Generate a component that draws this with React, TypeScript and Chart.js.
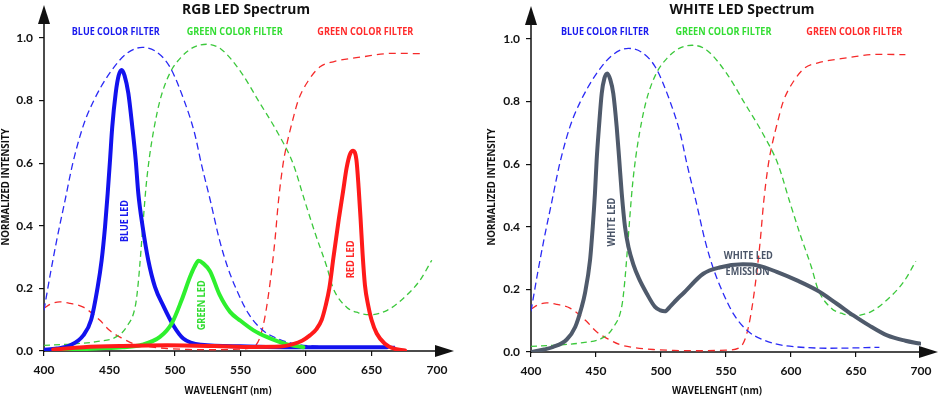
import React, { useEffect, useRef } from 'react';
import { Chart, registerables } from 'chart.js';

Chart.register(...registerables);

// ---- axis ranges / tick labels ----
const X_MIN = 400;
const X_MAX = 700;
const X_STEP = 50;
const Y_MIN = 0;
const Y_MAX = 1.0;
const Y_STEP = 0.2;

// ---- colour filters (dashed, same in both panels) ----
const blueFilterNm = [400, 405, 410, 416, 422, 430, 438, 450, 463, 475, 486, 496, 507, 515, 520, 527, 534, 540, 546, 556, 567, 578, 590, 605, 630, 668];
const blueFilterVal = [0.13, 0.25, 0.36, 0.48, 0.6, 0.72, 0.8, 0.887, 0.95, 0.97, 0.955, 0.908, 0.8, 0.695, 0.6, 0.48, 0.354, 0.27, 0.205, 0.12, 0.066, 0.04, 0.024, 0.016, 0.012, 0.015];

const greenFilterNm = [400, 420, 440, 455, 463, 470, 472, 474, 476, 478, 480.5, 483.5, 488.5, 496, 505, 514, 524, 535, 551, 563.6, 578.7, 590, 599, 607, 615.8, 620.8, 631, 640, 649, 662, 674, 687, 696];
const greenFilterVal = [0.018, 0.022, 0.03, 0.045, 0.077, 0.15, 0.22, 0.32, 0.43, 0.53, 0.62, 0.7, 0.8, 0.887, 0.94, 0.97, 0.98, 0.965, 0.887, 0.8, 0.695, 0.6, 0.48, 0.376, 0.27, 0.2, 0.14, 0.122, 0.116, 0.13, 0.167, 0.226, 0.29];

const redFilterNm = [400, 406, 412, 420, 430, 442.7, 450, 460, 468, 480, 494, 510, 530, 550, 560, 565, 568.7, 572.5, 576.3, 579, 582.6, 585.5, 590, 594, 602, 610.7, 620.8, 643.5, 666, 688];
const redFilterVal = [0.137, 0.152, 0.157, 0.152, 0.14, 0.098, 0.066, 0.04, 0.024, 0.014, 0.008, 0.005, 0.004, 0.006, 0.013, 0.045, 0.11, 0.215, 0.354, 0.48, 0.6, 0.663, 0.74, 0.8, 0.865, 0.908, 0.924, 0.94, 0.951, 0.95];

// ---- RGB LED emissions ----
const blueLedNm = [399, 410, 420, 430, 436, 441, 444, 446.6, 448.6, 450.4, 452.1, 454.7, 457, 459.3, 461.5, 464.4, 467.4, 470, 472, 475.3, 479.6, 484.7, 491, 499, 506.3, 520, 550, 600, 640, 662];
const blueLedVal = [0.004, 0.008, 0.018, 0.05, 0.1, 0.205, 0.29, 0.397, 0.503, 0.61, 0.716, 0.823, 0.88, 0.898, 0.88, 0.823, 0.716, 0.61, 0.503, 0.397, 0.29, 0.205, 0.145, 0.08, 0.04, 0.02, 0.015, 0.012, 0.012, 0.012];

const greenLedNm = [413.5, 440, 460, 475, 488.5, 497.5, 505, 511.5, 515, 518, 521.5, 526.7, 534, 542, 549.6, 560, 570, 585, 598];
const greenLedVal = [0.002, 0.008, 0.012, 0.02, 0.045, 0.088, 0.162, 0.237, 0.27, 0.288, 0.28, 0.255, 0.18, 0.125, 0.098, 0.066, 0.045, 0.022, 0.012];

const redLedNm = [407, 430, 460, 494, 530, 560, 580, 590, 597, 603, 608, 612, 615, 617.8, 621, 625, 628.3, 631, 633.5, 636, 638.5, 640.2, 641.7, 643.2, 645, 647.5, 650, 654, 660, 666.6, 675.6];
const redLedVal = [0.005, 0.012, 0.016, 0.018, 0.016, 0.013, 0.014, 0.022, 0.033, 0.05, 0.07, 0.1, 0.145, 0.2, 0.3, 0.42, 0.51, 0.585, 0.628, 0.64, 0.61, 0.52, 0.42, 0.31, 0.21, 0.145, 0.1, 0.056, 0.024, 0.008, 0.002];

// ---- white LED emission ----
const whiteLedNm = [400, 410, 417, 427.5, 434, 439, 441.5, 445.4, 447.5, 449.2, 450.5, 452.3, 454.4, 456.5, 458.7, 461, 463.3, 465.9, 467.9, 469.8, 472.3, 475, 478.7, 483, 489, 495.4, 499.5, 503, 507, 512, 517, 532.5, 545, 563, 575, 589, 605, 620, 635, 648, 660, 674, 688, 699];
const whiteLedVal = [0, 0.008, 0.016, 0.04, 0.08, 0.144, 0.187, 0.293, 0.4, 0.507, 0.613, 0.72, 0.826, 0.875, 0.89, 0.87, 0.826, 0.72, 0.613, 0.507, 0.4, 0.335, 0.28, 0.235, 0.187, 0.144, 0.133, 0.13, 0.145, 0.167, 0.187, 0.25, 0.27, 0.28, 0.276, 0.256, 0.228, 0.197, 0.155, 0.117, 0.085, 0.053, 0.036, 0.027];

// ---- styles ----
const C_BLUE = '#1212ee';
const C_GREEN = '#2ef02e';
const C_RED = '#ff1a1a';
const C_WHITE = '#4f5a6b';
const C_BLUE_D = '#2a2af5';
const C_GREEN_D = '#3cc83c';
const C_RED_D = '#f52a2a';
const C_BLUE_T = '#1a1aee';
const C_GREEN_T = '#33dd33';
const C_RED_T = '#ff2a2a';
const C_WHITE_T = '#4a5568';
const AXIS = '#111111';

const W = 470;
const H = 397;

type Ann = { text: string; nm: number; val: number; color: string; w: number; rot?: boolean };

function series(xs: number[], ys: number[]) {
  return xs.map((x, i) => ({ x, y: ys[i] }));
}

function line(label: string, xs: number[], ys: number[], color: string, width: number, dash?: number[]) {
  return {
    label,
    data: series(xs, ys),
    borderColor: color,
    backgroundColor: color,
    borderWidth: width,
    borderDash: dash || [],
    borderCapStyle: dash ? 'butt' : 'round',
    borderJoinStyle: 'round',
    pointRadius: 0,
    fill: false,
    cubicInterpolationMode: 'monotone',
  };
}

function filterSets() {
  return [
    line('Blue color filter', blueFilterNm, blueFilterVal, C_BLUE_D, 1.3, [7, 4]),
    line('Green color filter', greenFilterNm, greenFilterVal, C_GREEN_D, 1.3, [6, 4]),
    line('Red color filter', redFilterNm, redFilterVal, C_RED_D, 1.3, [7, 5]),
  ];
}

const filterAnns = (b: number, g: number, r: number, v: number): Ann[] => [
  { text: 'BLUE COLOR FILTER', nm: b, val: v, color: C_BLUE_T, w: 88 },
  { text: 'GREEN COLOR FILTER', nm: g, val: v, color: C_GREEN_T, w: 96 },
  { text: 'GREEN COLOR FILTER', nm: r, val: v, color: C_RED_T, w: 96 },
];

const panels = [
  {
    left: 0,
    title: 'RGB LED Spectrum',
    titleX: 246,
    titleW: 128,
    area: { left: 44, right: 437, top: 38, bottom: 351 },
    yTitleX: 6,
    xTitleX: 228,
    xTitleW: 87,
    datasets: () => [
      line('Red LED', redLedNm, redLedVal, C_RED, 4),
      line('Green LED', greenLedNm, greenLedVal, C_GREEN, 4),
      line('Blue LED', blueLedNm, blueLedVal, C_BLUE, 4),
      ...filterSets(),
    ],
    anns: [
      ...filterAnns(454.8, 545.6, 645.3, 1.018),
      { text: 'BLUE LED', nm: 461.8, val: 0.415, color: C_BLUE_T, w: 42, rot: true },
      { text: 'GREEN LED', nm: 520.4, val: 0.146, color: C_GREEN_T, w: 50, rot: true },
      { text: 'RED LED', nm: 634.2, val: 0.293, color: C_RED_T, w: 38, rot: true },
    ] as Ann[],
  },
  {
    left: 470,
    title: 'WHITE LED Spectrum',
    titleX: 272,
    titleW: 145,
    area: { left: 61, right: 451, top: 39, bottom: 352 },
    yTitleX: 22.5,
    xTitleX: 247,
    xTitleW: 90,
    datasets: () => [
      line('White LED', whiteLedNm, whiteLedVal, C_WHITE, 4),
      ...filterSets(),
    ],
    anns: [
      ...filterAnns(456.9, 548, 648.7, 1.021),
      { text: 'WHITE LED', nm: 462.1, val: 0.415, color: C_WHITE_T, w: 49, rot: true },
      { text: 'WHITE LED', nm: 567.2, val: 0.306, color: C_WHITE_T, w: 49 },
      { text: 'EMISSION', nm: 566.6, val: 0.256, color: C_WHITE_T, w: 44 },
    ] as Ann[],
  },
];

function fitText(
  ctx: CanvasRenderingContext2D,
  text: string,
  cx: number,
  cy: number,
  font: string,
  color: string,
  width: number,
  rot = false,
  baseline: CanvasTextBaseline = 'middle'
) {
  ctx.save();
  ctx.translate(cx, cy);
  if (rot) ctx.rotate(-Math.PI / 2);
  ctx.font = font;
  const m = ctx.measureText(text).width;
  ctx.scale(width / m, 1);
  ctx.textAlign = 'center';
  ctx.textBaseline = baseline;
  ctx.fillStyle = color;
  ctx.fillText(text, 0, 0);
  ctx.restore();
}

const ANN_FONT = "bold 10px 'Open Sans'";
const TICK_FONT = { family: 'Lato', weight: 'bold' as const, size: 12 };

function Panel({ cfg }: { cfg: (typeof panels)[number] }) {
  const ref = useRef<HTMLCanvasElement>(null);

  useEffect(() => {
    const a = cfg.area;
    const decor = {
      id: 'decor',
      beforeDatasetsDraw(chart: any) {
        const ctx = chart.ctx as CanvasRenderingContext2D;
        const ca = chart.chartArea;
        ctx.save();
        ctx.strokeStyle = AXIS;
        ctx.lineWidth = 1.5;
        ctx.beginPath();
        ctx.moveTo(ca.left, ca.bottom + 1);
        ctx.lineTo(ca.left, ca.top - 20);
        ctx.moveTo(ca.left - 1, ca.bottom);
        ctx.lineTo(ca.right + 5, ca.bottom);
        ctx.stroke();
        ctx.restore();
      },
      afterDraw(chart: any) {
        const ctx = chart.ctx as CanvasRenderingContext2D;
        const ca = chart.chartArea;
        const xs = chart.scales.x;
        const ys = chart.scales.y;
        ctx.save();
        ctx.fillStyle = AXIS;
        // y arrow
        ctx.beginPath();
        ctx.moveTo(ca.left, ca.top - 33);
        ctx.lineTo(ca.left - 6, ca.top - 14);
        ctx.lineTo(ca.left + 6, ca.top - 14);
        ctx.closePath();
        ctx.fill();
        // x arrow
        ctx.beginPath();
        ctx.moveTo(ca.right + 17, ca.bottom);
        ctx.lineTo(ca.right - 2, ca.bottom - 6);
        ctx.lineTo(ca.right - 2, ca.bottom + 6);
        ctx.closePath();
        ctx.fill();
        ctx.restore();

        // titles
        fitText(ctx, cfg.title, cfg.titleX, 13.5, "bold 14px 'Open Sans'", '#111', cfg.titleW, false, 'alphabetic');
        fitText(ctx, 'NORMALIZED INTENSITY', cfg.yTitleX, 187, "bold 10.5px 'Open Sans'", '#111', 117, true);
        fitText(ctx, 'WAVELENGHT (nm)', cfg.xTitleX, 391.5, "bold 10px 'Open Sans'", '#111', cfg.xTitleW);

        for (const an of cfg.anns) {
          const px = xs.getPixelForValue(an.nm);
          const py = ys.getPixelForValue(an.val);
          fitText(ctx, an.text, px, py, ANN_FONT, an.color, an.w, !!an.rot);
        }
      },
    };

    const chart = new Chart(ref.current as HTMLCanvasElement, {
      type: 'line',
      data: { datasets: cfg.datasets() as any },
      options: {
        responsive: false,
        animation: false,
        devicePixelRatio: 1,
        layout: { padding: { left: 0, right: W - a.right, top: a.top, bottom: 0 } },
        scales: {
          x: {
            type: 'linear',
            min: X_MIN,
            max: X_MAX,
            afterFit: (s: any) => {
              s.height = H - a.bottom;
            },
            ticks: {
              stepSize: X_STEP,
              padding: 7,
              color: '#111',
              font: TICK_FONT,
              maxRotation: 0,
              autoSkip: false,
              callback: (v: any) => String(v),
            },
            grid: { display: true, drawOnChartArea: false, drawTicks: true, tickLength: 5, color: AXIS, lineWidth: 1.2 },
            border: { display: false },
          },
          y: {
            type: 'linear',
            min: Y_MIN,
            max: Y_MAX,
            afterFit: (s: any) => {
              s.width = a.left;
            },
            ticks: {
              stepSize: Y_STEP,
              padding: 6,
              color: '#111',
              font: TICK_FONT,
              callback: (v: any) => Number(v).toFixed(1),
            },
            grid: { display: true, drawOnChartArea: false, drawTicks: true, tickLength: 5, color: AXIS, lineWidth: 1.2 },
            border: { display: false },
          },
        },
        plugins: { legend: { display: false }, tooltip: { enabled: false } },
      } as any,
      plugins: [decor],
    });
    return () => chart.destroy();
  }, [cfg]);

  return (
    <canvas
      ref={ref}
      width={W}
      height={H}
      style={{ position: 'absolute', left: cfg.left, top: 0, width: W, height: H }}
    />
  );
}

export default function App() {
  return (
    <div style={{ position: 'absolute', left: 0, top: 0, width: 940, height: 397, background: '#ffffff', overflow: 'hidden' }}>
      {panels.map((p, i) => (
        <Panel key={i} cfg={p} />
      ))}
    </div>
  );
}
